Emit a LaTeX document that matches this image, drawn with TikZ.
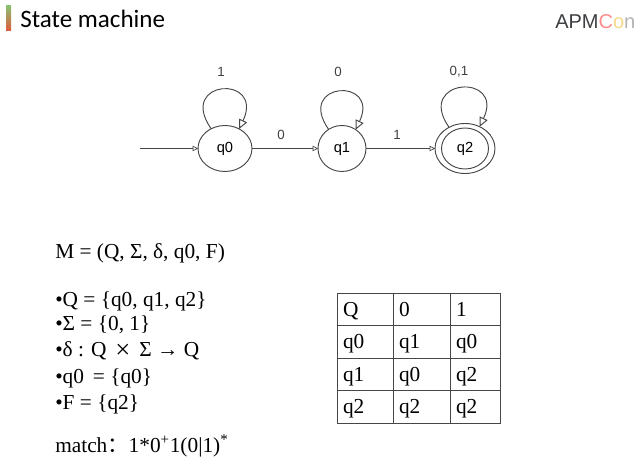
\documentclass[tikz,border=0pt]{standalone}
\usepackage{fontspec}
\setmainfont{Liberation Serif}
\newfontfamily\titlefont{Carlito}
\newfontfamily\labelfont{Liberation Sans}
\newfontfamily\cjk{Noto Sans CJK SC}
\usetikzlibrary{arrows.meta,shapes.geometric}
\definecolor{slate}{RGB}{70,70,70}
\definecolor{logodark}{RGB}{60,62,66}
\definecolor{barTop}{RGB}{140,190,110}
\definecolor{barMid}{RGB}{240,190,60}
\definecolor{barLow}{RGB}{225,90,60}

\begin{document}
\begin{tikzpicture}[
  x=0.75pt, y=-0.75pt,
  >={Triangle[open,length=4pt,width=4pt]},
  state/.style={draw=slate, fill=white, ellipse, inner sep=0pt, outer sep=0pt,
    minimum height=34.5pt, line width=0.7pt,
    font=\labelfont\fontsize{11}{13}\selectfont},
  ring/.style={draw=slate, ellipse, inner sep=0pt, outer sep=0pt, line width=0.7pt},
  arrow/.style={->, draw=slate, line width=0.5pt},
  loopback/.style={draw=slate, line width=0.7pt,
    -{Triangle[open,length=7pt,width=6.5pt]}},
  edgelabel/.style={font=\labelfont\fontsize{10}{12}\selectfont, text=black!75},
  formula/.style={anchor=base west, inner sep=0pt, font=\fontsize{16}{18}\selectfont},
  cell/.style={draw=slate, anchor=north west, line width=0.7pt, inner xsep=4.5pt, inner ysep=0pt,
    outer sep=0pt, minimum height=24.375pt, text height=12.5pt, text depth=2pt,
    align=left, font=\fontsize{16}{18}\selectfont}
]
\useasboundingbox (0,0) rectangle (640,466);

% Slide header
\shade[top color=barTop, middle color=barMid, bottom color=barLow]
  (6,6) rectangle (11,31);
\node[anchor=base west, inner sep=0pt, font=\titlefont\fontsize{18.8}{20}\selectfont] (title)
  at (20,28) {State machine};
\node[anchor=base west, inner sep=0pt, font=\labelfont\fontsize{15}{20}\selectfont] (logo)
  at (555,29) {\textcolor{logodark}{APM}\textcolor{red!45!white}{C}\textcolor{barMid!60!white}{o}\textcolor{black!30}{n}};

% States
\node[state, minimum width=40.5pt] (q0) at (225,148.5) {q0};
\node[state, minimum width=36pt] (q1) at (342,148.5) {q1};
\node[state, minimum width=35.25pt, minimum height=30.75pt] (q2) at (465,148.5) {q2};
\node[ring, minimum width=45pt, minimum height=37.5pt] (q2ring) at (q2) {};
\coordinate (entry) at (140,148.5);

% Transitions
\draw[arrow] (entry) -- (q0.west);
\draw[arrow] (q0.east) -- (q1.west);
\draw[arrow] (q1.east) -- (q2ring.west);
\draw[loopback] (q0.125) to[out=125,in=65,looseness=5.5] (q0.54);
\draw[loopback] (q1.125) to[out=125,in=65,looseness=5.5] (q1.54);
\draw[loopback] (q2ring.127) to[out=125,in=65,looseness=5] (q2ring.56);

% Transition labels
\node[edgelabel] (loop0) at (221,72) {1};
\node[edgelabel] (loop1) at (338,72) {0};
\node[edgelabel] (loop2) at (459,72) {0,1};
\node[edgelabel] (edge0) at (281,135) {0};
\node[edgelabel] (edge1) at (397,135) {1};

% Formal definition
\node[formula] (machine) at (55,259) {M = (Q, Σ, δ, q0, F)};
\node[formula] (defq) at (55,307) {•Q = \{q0, q1, q2\}};
\node[formula] (defsigma) at (55,331) {•Σ = \{0, 1\}};
\node[formula] (defdelta) at (55,357) {•δ : Q\, \raisebox{-1.5pt}{\fontsize{20}{20}\selectfont ×}\, Σ → Q};
\node[formula] (defstart) at (55,384) {•q0 \,= \{q0\}};
\node[formula] (deffinal) at (55,410) {•F = \{q2\}};
\node[formula] (match) at (55,453) {match{\cjk：}1*0\textsuperscript{+}1(0|1)\textsuperscript{*}};

% Transition table
\tikzset{
  col0/.style={cell, text width=33pt},
  col1/.style={cell, text width=33.75pt},
  col2/.style={cell, text width=28.5pt}
}
\node[col0] (q) at (337,293) {Q};
\node[col1] (in0) at (393,293) {0};
\node[col2] (in1) at (450,293) {1};
\node[col0] (row0) at (337,325.5) {q0};
\node[col1] (row00) at (393,325.5) {q1};
\node[col2] (row01) at (450,325.5) {q0};
\node[col0] (row1) at (337,358) {q1};
\node[col1] (row10) at (393,358) {q0};
\node[col2] (row11) at (450,358) {q2};
\node[col0] (row2) at (337,390.5) {q2};
\node[col1] (row20) at (393,390.5) {q2};
\node[col2] (row21) at (450,390.5) {q2};

\end{tikzpicture}
\end{document}
